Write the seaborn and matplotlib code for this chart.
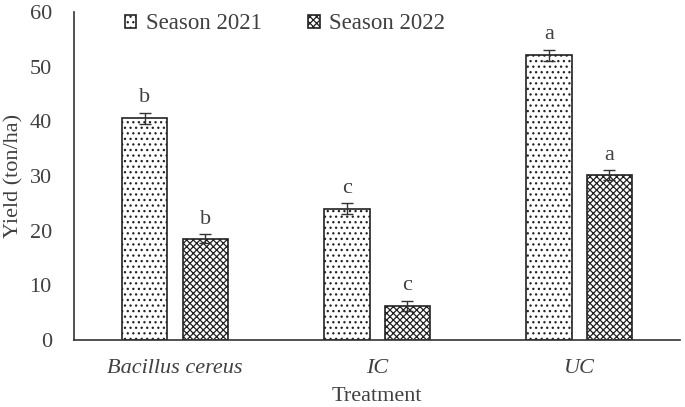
import pandas as pd
import matplotlib
matplotlib.use("Agg")
import matplotlib.pyplot as plt
import seaborn as sns

# Datos
treatments = ["Bacillus cereus", "IC", "UC"]
seasons = ["Season 2021", "Season 2022"]
yield_2021 = [40.6, 24.0, 52.1]
yield_2022 = [18.5, 6.2, 30.2]
err_2021 = [1.0, 1.0, 1.0]
err_2022 = [0.8, 1.0, 0.9]
letters_2021 = ["b", "c", "a"]
letters_2022 = ["b", "c", "a"]

data = pd.DataFrame({
    "Treatment": treatments * 2,
    "Season": [seasons[0]] * 3 + [seasons[1]] * 3,
    "Yield": yield_2021 + yield_2022,
})
errs = {seasons[0]: err_2021, seasons[1]: err_2022}
letters = {seasons[0]: letters_2021, seasons[1]: letters_2022}

sns.set_style("white")
plt.rcParams["font.family"] = ["Liberation Serif", "DejaVu Serif"]
plt.rcParams["hatch.linewidth"] = 0.9

fs = 16
txt = "#404040"

fig, ax = plt.subplots(figsize=(6.85, 4.07), dpi=100)
sns.barplot(data=data, x="Treatment", y="Yield", hue="Season", order=treatments,
            hue_order=seasons, width=0.6, gap=0.25, palette=["white", "white"],
            edgecolor="#222222", linewidth=1.2, errorbar=None, ax=ax)

hatches = ["...", "xxxxx"]
bar_conts = list(ax.containers)
for i, cont in enumerate(bar_conts):
    s = seasons[i]
    for j, bar in enumerate(cont):
        bar.set_facecolor("white")
        bar.set_hatch(hatches[i])
        cx = bar.get_x() + bar.get_width() / 2
        h = bar.get_height()
        ax.errorbar(cx, h, yerr=errs[s][j], color="#333333", capsize=4,
                    elinewidth=1, capthick=1)
        ax.text(cx, h + errs[s][j] + 1.0, letters[s][j], ha="center", va="bottom",
                fontsize=fs, color=txt)

ax.set_ylim(0, 60)
ax.set_xlim(-0.5, 2.5)
ax.set_yticks(range(0, 61, 10))
ax.set_ylabel("Yield (ton/ha)", fontsize=fs, color=txt, labelpad=4)
ax.set_xlabel("Treatment", fontsize=fs, color=txt, labelpad=6)
ax.tick_params(axis="y", length=0, labelsize=fs, labelcolor=txt, pad=16)
ax.tick_params(axis="x", length=0, labelsize=fs, labelcolor=txt, pad=14)
ax.set_xticks(range(3))
ax.set_xticklabels(treatments, style="italic")
for side in ["top", "right"]:
    ax.spines[side].set_visible(False)
for side in ["left", "bottom"]:
    ax.spines[side].set_color("#333333")
    ax.spines[side].set_linewidth(1.2)

leg = ax.legend(loc="upper left", bbox_to_anchor=(0.05, 1.06), ncol=2, frameon=False,
                fontsize=16.5, handlelength=0.5, handleheight=0.5, handletextpad=0.4,
                columnspacing=2.05, labelcolor=txt)
for hnd, ht in zip(leg.legend_handles, hatches):
    hnd.set_hatch(ht)
    hnd.set_facecolor("white")

fig.subplots_adjust(left=0.108, right=0.993, top=0.97, bottom=0.165)
fig.savefig("out.png", dpi=100)
